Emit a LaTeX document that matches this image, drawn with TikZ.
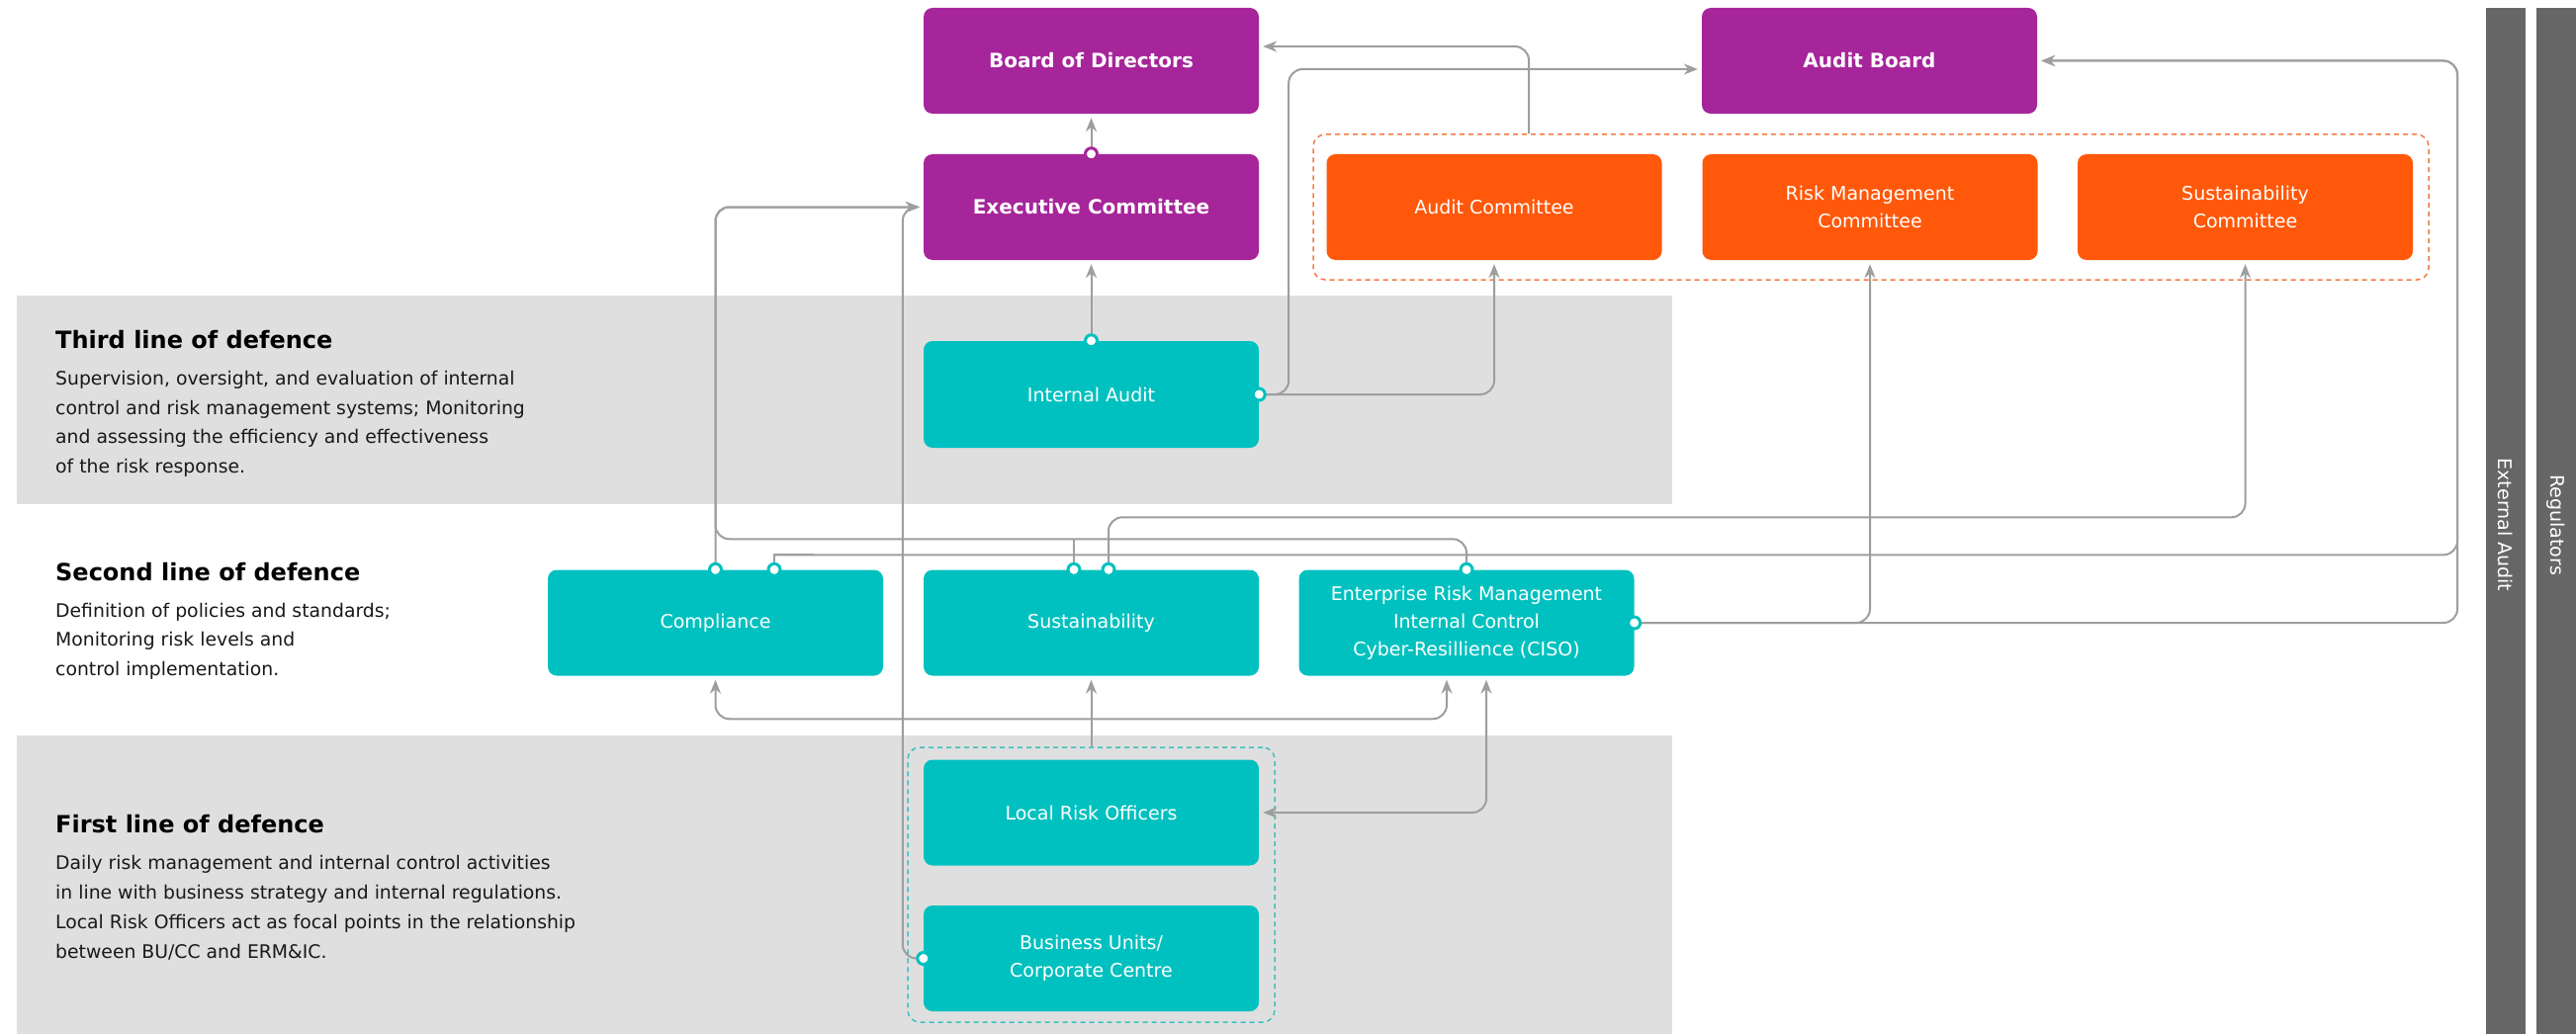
\documentclass[tikz,border=0pt]{standalone}
\usepackage{fontspec}
\setmainfont{DejaVu Sans}
\usetikzlibrary{arrows.meta,calc}
\definecolor{purp}{HTML}{A6259A}
\definecolor{orng}{HTML}{FF580A}
\definecolor{teal1}{HTML}{00C1BF}
\definecolor{band}{HTML}{DFDFDF}
\definecolor{barc}{HTML}{666666}
\definecolor{lgray}{HTML}{9E9E9E}
\definecolor{odash}{HTML}{F47A45}
\definecolor{tdash}{HTML}{3FBFBF}
\begin{document}
\begin{tikzpicture}[x=1pt,y=-1pt,
  box/.style={rectangle, rounded corners=9pt, minimum width=339pt, minimum height=107pt, inner sep=0pt, align=center, text=white, font=\fontsize{19}{28}\selectfont},
  pbox/.style={box, fill=purp, font=\fontsize{20}{28}\selectfont\bfseries},
  obox/.style={box, fill=orng},
  tbox/.style={box, fill=teal1},
  conn/.style={draw=lgray, line width=2pt, rounded corners=14pt},
  arr/.style={-{Stealth[length=14pt,width=11pt]}, shorten >=4pt},
  darr/.style={{Stealth[length=14pt,width=11pt]}-{Stealth[length=14pt,width=11pt]}, shorten >=4pt, shorten <=4pt},
  tdot/.style={circle, draw=teal1, fill=white, line width=3pt, minimum size=12pt, inner sep=0pt},
  pdot/.style={tdot, draw=purp},
  lhead/.style={anchor=base west, inner sep=0pt, font=\fontsize{24}{28}\selectfont\bfseries},
  lbody/.style={anchor=base west, inner sep=0pt, font=\fontsize{18.8}{28}\selectfont, text=black!90},
  grp/.style={rectangle, rounded corners=12pt, line width=1.5pt, dash pattern=on 5pt off 4pt, inner sep=0pt},
  vbar/.style={fill=barc},
  vtext/.style={rotate=-90, text=white, font=\fontsize{19}{24}\selectfont, inner sep=0pt}
]
\useasboundingbox (0,0) rectangle (2605,1046);
\fill[white] (0,0) rectangle (2605,1046);
% bands
\fill[band] (17,299) rectangle (1691,510);
\fill[band] (17,744) rectangle (1691,1046);
% right bars
\fill[vbar] (2514,8) rectangle (2554,1046);
\fill[vbar] (2565,8) rectangle (2605,1046);
\node[vtext] (extaud) at (2534,531) {External Audit};
\node[vtext] (regul) at (2585,531) {Regulators};
% left texts
\node[lhead] (h3) at (56,352) {Third line of defence};
\node[lbody] (b31) at (56,389) {Supervision, oversight, and evaluation of internal};
\node[lbody] (b32) at (56,419) {control and risk management systems; Monitoring};
\node[lbody] (b33) at (56,448) {and assessing the efficiency and effectiveness};
\node[lbody] (b34) at (56,478) {of the risk response.};
\node[lhead] (h2) at (56,587) {Second line of defence};
\node[lbody] (b21) at (56,624) {Definition of policies and standards;};
\node[lbody] (b22) at (56,653) {Monitoring risk levels and};
\node[lbody] (b23) at (56,683) {control implementation.};
\node[lhead] (h1) at (56,842) {First line of defence};
\node[lbody] (b11) at (56,879) {Daily risk management and internal control activities};
\node[lbody] (b12) at (56,909) {in line with business strategy and internal regulations.};
\node[lbody] (b13) at (56,939) {Local Risk Officers act as focal points in the relationship};
\node[lbody] (b14) at (56,969) {between BU/CC and ERM\&IC.};
% groups
\node[grp, draw=odash, minimum width=1128pt, minimum height=147pt] (ogrp) at (1892,209.5) {};
\node[grp, draw=tdash, minimum width=371pt, minimum height=278pt] (tgrp) at (1103.5,895) {};
% boxes
\node[pbox] (bod) at (1103.5,61.5) {Board of Directors};
\node[pbox] (ab) at (1890.5,61.5) {Audit Board};
\node[pbox] (ec) at (1103.5,209.5) {Executive Committee};
\node[obox] (acom) at (1511,209.5) {Audit Committee};
\node[obox] (rmc) at (1891,209.5) {Risk Management\\Committee};
\node[obox] (scom) at (2270.5,209.5) {Sustainability\\Committee};
\node[tbox, minimum height=108pt] (ia) at (1103.5,399) {Internal Audit};
\node[tbox] (comp) at (723.5,630) {Compliance};
\node[tbox] (sus) at (1103.5,630) {Sustainability};
\node[tbox] (erm) at (1483,630) {Enterprise Risk Management\\Internal Control\\Cyber-Resillience (CISO)};
\node[tbox] (lro) at (1103.5,822) {Local Risk Officers};
\node[tbox] (bu) at (1103.5,969.5) {Business Units/\\Corporate Centre};
\coordinate (rvtop) at (2485,61.5);
\coordinate (c2pt) at ($([xshift=59.5pt]comp.north)+(0,-15)$);
\coordinate (gjoin) at ($(tgrp.north)+(0,-28)$);
% connectors
\draw[conn,arr] (ec.north) -- (bod.south);
\draw[conn,arr] (ia.north) -- (ec.south);
\draw[conn,arr] (ia.east) -| (acom.south);
\draw[conn,arr] (ia.east) -- ++(30,0) |- ([yshift=-8.5pt]ab.west);
\draw[conn,arr] ([xshift=-346pt]ogrp.north) |- ([yshift=14.5pt]bod.east);
\draw[conn,arr] (comp.north) |- (ec.west);
\draw[conn,arr] (erm.north) -- ++(0,-31) -| (comp.north |- ec.west) -- (ec.west);
\draw[conn,arr] (bu.west) -- ++(-21,0) |- (ec.west);
\draw[conn] ([xshift=-17.5pt]sus.north) -- ++(0,-31);
\draw[conn,arr] ([xshift=17.5pt]sus.north) -- ++(0,-53) -| (scom.south);
\draw[conn,sharp corners] ([xshift=59.5pt]comp.north) -- (c2pt) -- ++(40,0);
\draw[conn,arr] (c2pt) -| (rvtop) -- (ab.east);
\draw[conn,arr] (erm.east) -| (rvtop) -- (ab.east);
\draw[conn,arr] (erm.east) -| (rmc.south);
\draw[conn,arr] (tgrp.north) -- (sus.south);
\draw[conn,arr] (gjoin) -| (comp.south);
\draw[conn,arr] (gjoin) -| ([xshift=-20pt]erm.south);
\draw[conn,darr] ([xshift=20pt]erm.south) |- (lro.east);
% dots
\node[pdot] (d0) at (ec.north) {};
\node[tdot] (d1) at (ia.north) {};
\node[tdot] (d2) at (ia.east) {};
\node[tdot] (d3) at (comp.north) {};
\node[tdot] (d4) at ([xshift=59.5pt]comp.north) {};
\node[tdot] (d5) at ([xshift=-17.5pt]sus.north) {};
\node[tdot] (d6) at ([xshift=17.5pt]sus.north) {};
\node[tdot] (d7) at (erm.north) {};
\node[tdot] (d8) at (erm.east) {};
\node[tdot] (d9) at (bu.west) {};
\end{tikzpicture}
\end{document}
